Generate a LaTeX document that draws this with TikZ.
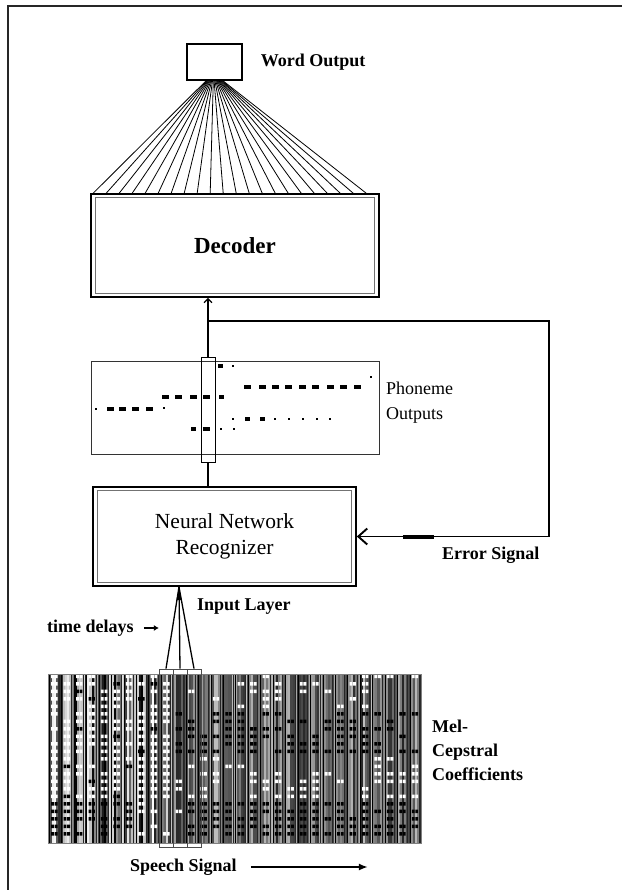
\documentclass[tikz,border=0pt]{standalone}
\usepackage{fontspec}
\setmainfont{Liberation Serif}
\usetikzlibrary{arrows.meta, positioning}

\begin{document}
\begin{tikzpicture}[x=1pt, y=-1pt, box/.style={draw,line width=1.6pt,inner sep=0pt}, thin/.style={draw,line width=.9pt,inner sep=0pt}, lb/.style={font=\fontsize{18}{24}\selectfont\bfseries,inner sep=0pt,anchor=west,align=left}, fan/.style={line width=.8pt}, sig/.style={line width=1.9pt}]
  \useasboundingbox (0,0) rectangle (622,890);
  \draw[line width=1.6pt,black!85] (8,890) -- (8,6) -- (622,6);
  % decoder part
  \node[box,line width=1.5pt,minimum width=55pt,minimum height=36pt](word) at (214.5,62){};
  \node[lb,right=18pt of word](wout){Word Output};
  \node[box,minimum width=288pt,minimum height=103pt,font=\fontsize{23}{28}\selectfont\bfseries](dec) at (235,245.5){Decoder};
  \foreach \i in {0,...,21}{\draw[fan]([xshift={(\i-10.5)*0.8pt}]word.south)--([xshift={3pt+\i*13pt}]dec.north west);}
  % phoneme outputs
  \node[thin,draw=black!80,minimum width=288pt,minimum height=93pt](ph) at (235,407.5){};
  \foreach \x/\y/\s in {96/409/1.2,110/409/3.5,122/409/3.5,135/409/3.5,149/409/3.5,164/408/1.2,
    165/397/3.5,178/397/3.5,193/397/3.5,206/397/3.5,221/397/2.5,
    247/387/3.5,262/387/3.5,275/387/3.5,288/387/3.5,302/387/3.5,315/387/3.5,330/387/3.5,343/387/3.5,357/387/3.5,
    220/366/2.5,233/366/1.2,371/377/0.9,
    233/419/1.2,247/419/2.5,262/419/2.5,275/419/1.2,289/419/1.2,303/419/1.2,317/419/1.2,330/419/0.9,
    193/429/2.5,206/429/3.5,221/429/1.2,234/429/1.2}{\fill(\x-\s,\y-0.7*\s) rectangle (\x+\s,\y+0.7*\s);}
  \node[thin,line width=1pt,minimum width=14pt,minimum height=105pt](win) at (208,409.5){};
  \node[lb,font=\fontsize{18}{25}\selectfont](phl) at (386,403){Phoneme\\Outputs};
  % recognizer
  \node[box,minimum width=263pt,minimum height=99pt,font=\fontsize{21.5}{26}\selectfont,align=center](nn) at (224.5,536.5){Neural Network\\Recognizer};
  \foreach \n in {dec,nn}{\draw[black!55,line width=.9pt]([shift={(5,-4)}]\n.south west) rectangle ([shift={(-5,4)}]\n.north east);}
  \coordinate (tap) at (208,321);
  \coordinate (cor) at (549,321);
  \draw[line width=1.3pt,-{Straight Barb[length=4pt,width=8pt]}](win.north)--(win.north |- dec.south);
  \draw[sig,-{Straight Barb[length=9pt,width=16pt]}](tap)--(cor)|-(nn.east);
  \draw[line width=4pt]([xshift=46pt]nn.east)--([xshift=77pt]nn.east);
  \draw[line width=1.3pt](win.south)--(win.south |- nn.north);
  \node[lb](errl) at (442,555){Error Signal};
  % spectrogram
  \pgfmathsetseed{11}
  \foreach \i in {0,...,29}{
    \pgfmathsetmacro\fx{48+\i*12.433}
    \foreach \k in {0,...,5}{
      \ifnum\i<10 \pgfmathrandominteger{\g}{0}{100}\else\pgfmathrandominteger{\g}{25}{85}\fi
      \fill[black!\g]({\fx+\k*2.072},674) rectangle ({\fx+(\k+1)*2.072},843);
    }
    \fill[black]({\fx+1},674) rectangle ({\fx+1.8},843);
    \fill[black!85]({\fx+10.5},674) rectangle ({\fx+11.2},843);
    \foreach \j in {0,...,21}{
      \pgfmathrandominteger{\r}{0}{99}
      \pgfmathtruncatemacro\cc{(\j>16) ? ((\i>6 && \i<11) ? (\r<40 ? 2 : 0) : (\r<85 ? 1 : 0)) : ((\i<10) ? (\r<70 ? 2 : (\r<80 ? 1 : 0)) : ((\j>4 && \j<11) ? (\r<60 ? 1 : 0) : ((\j>12) ? (\r<40 ? 2 : 0) : (\r<25 ? 2 : 0))))}
      \ifcase\cc\relax\or\fill[black]({\fx+3.2},{678+\j*7.5}) rectangle ++(2.8,-3.5) ++(0.8,0) rectangle ++(2.8,3.5);\or\fill[white]({\fx+3.2},{678+\j*7.5}) rectangle ++(2.8,-3.5) ++(0.8,0) rectangle ++(2.8,3.5);\fi
    }
  }
  \draw[black!50,line width=.8pt](48,674) rectangle (421,843);
  \coordinate (apex) at (179,587);
  \node[thin,draw=black!70,line width=.8pt,minimum width=14pt,minimum height=178pt](d1) at (166,758){};
  \node[thin,draw=black!70,line width=.8pt,minimum width=14pt,minimum height=178pt](d2) at (180,758){};
  \node[thin,draw=black!70,line width=.8pt,minimum width=14pt,minimum height=178pt](d3) at (194,758){};
  \foreach \d in {d1,d2,d3}{\draw[line width=1.3pt](apex)--(\d.north);}
  \fill(apex)--++(-2.5,13)--++(5,0)--cycle;
  \node[lb](inl) at (197,607){Input Layer};
  \node[lb](tdl) at (47,628){time delays};
  \draw[line width=1.5pt,-{Latex[length=5pt,width=6pt]}]([xshift=10pt]tdl.east)--([xshift=25pt]tdl.east);
  \node[lb](mel) at (432,750){Mel-\\Cepstral\\Coefficients};
  \node[lb](ss) at (130,867){Speech Signal};
  \draw[line width=2.7pt,-{Latex[length=9pt,width=7pt]}]([xshift=14pt]ss.east)--([xshift=131pt]ss.east);
\end{tikzpicture}
\end{document}
